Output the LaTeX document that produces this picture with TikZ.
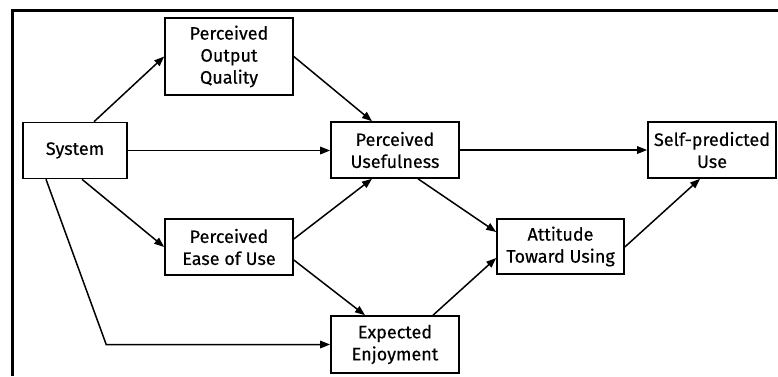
\documentclass[tikz,border=0pt]{standalone}
\usepackage{fontspec}
\setmainfont{Fira Sans}
\newfontfamily\boxfont{Fira Sans}[FakeBold=0.35]
\usetikzlibrary{arrows.meta}
\begin{document}
\begin{tikzpicture}[x=1pt,y=-1pt,
  box/.style={draw,line width=1.6pt,align=center,inner sep=0pt,
    font=\boxfont\fontsize{18}{22}\selectfont\addfontfeature{FakeBold=0.35}},
  link/.style={line width=1.5pt,-{Triangle[length=10pt,width=7.5pt]}}]
  \useasboundingbox (0,0) rectangle (778,376);
  % frame
  \draw[line width=3pt] (12,376) -- (12,10) -- (778,10);
  % boxes
  \node[box,minimum width=104pt,minimum height=56pt] (sys) at (75,150.5) {System};
  \node[box,minimum width=128pt,minimum height=77pt] (poq) at (229,56.5) {Perceived\\Output\\Quality};
  \node[box,minimum width=128pt,minimum height=56pt] (pu) at (395,150) {Perceived\\Usefulness};
  \node[box,minimum width=128pt,minimum height=56pt] (self) at (712,150) {Self-predicted\\Use};
  \node[box,minimum width=127pt,minimum height=55pt] (atu) at (560.5,246.5) {Attitude\\Toward Using};
  \node[box,minimum width=128pt,minimum height=56pt] (peou) at (229,247) {Perceived\\Ease of Use};
  \node[box,minimum width=128pt,minimum height=57pt] (ee) at (395,344.5) {Expected\\Enjoyment};
  % connectors
  \draw[link] ([xshift=19pt]sys.north) -- (poq.west);
  \draw[link] (sys.east) -- (sys.east -| pu.west);
  \draw[link] (poq.east) -- ([xshift=-23pt]pu.north);
  \draw[link] ([xshift=7pt]sys.south) -- (peou.west);
  \draw[link] ([xshift=-29pt]sys.south) -- ([xshift=-224pt]ee.west) -- (ee.west);
  \draw[link] ([yshift=8pt]peou.east) -- ([xshift=-23pt]pu.south);
  \draw[link] ([yshift=-13pt]peou.east) -- ([xshift=-30pt]ee.north);
  \draw[link] (pu.east) -- (pu.east -| self.west);
  \draw[link] ([xshift=23pt]pu.south) -- ([yshift=14.5pt]atu.west);
  \draw[link] ([xshift=38pt]ee.north) -- ([yshift=-11.5pt]atu.west);
  \draw[link] ([yshift=-0.5pt]atu.east) -- ([xshift=-12pt]self.south);
\end{tikzpicture}
\end{document}
